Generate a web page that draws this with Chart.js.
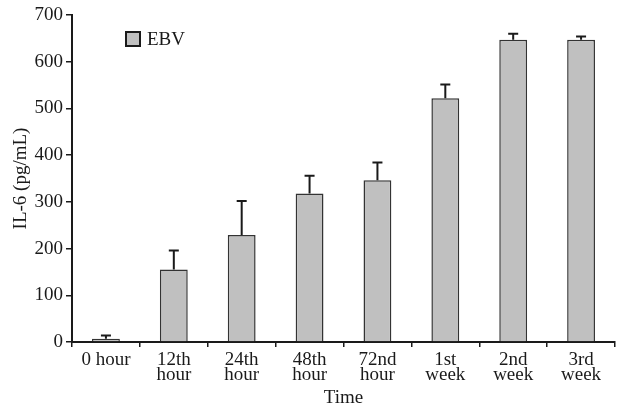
<!DOCTYPE html>
<html>
<head>
<meta charset="utf-8">
<script src="https://cdn.jsdelivr.net/npm/chart.js@4"></script>
<style>
    html, body { margin: 0; padding: 0; background: #fff; }
    #wrap { width: 623px; height: 408px; }
</style>
</head>
<body>
<div id="wrap"><canvas id="chart"></canvas></div>
<script>
// Data
const categories = [['0 hour'], ['12th', 'hour'], ['24th', 'hour'], ['48th', 'hour'],
    ['72nd', 'hour'], ['1st', 'week'], ['2nd', 'week'], ['3rd', 'week']];
const il6Values = [7, 155, 229, 318, 346, 522, 647, 647];
const il6Errors = [7, 41, 73, 38, 38, 29, 13, 7];
const seriesName = 'EBV';

const FONT = "'Liberation Serif', 'DejaVu Serif', serif";
const INK = '#1a1a1a';

// Upward-only error bars
const errorBars = {
    id: 'errorBars',
    afterDatasetsDraw(chart) {
        const ctx = chart.ctx;
        const y = chart.scales.y;
        const meta = chart.getDatasetMeta(0);
        ctx.save();
        ctx.strokeStyle = INK;
        ctx.lineWidth = 2;
        meta.data.forEach((bar, i) => {
            const top = y.getPixelForValue(il6Values[i] + il6Errors[i]);
            ctx.beginPath();
            ctx.moveTo(bar.x, bar.y);
            ctx.lineTo(bar.x, top);
            ctx.moveTo(bar.x - 5, top);
            ctx.lineTo(bar.x + 5, top);
            ctx.stroke();
        });
        ctx.restore();
    }
};

// Legend box inside the plot area
const insideLegend = {
    id: 'insideLegend',
    afterDraw(chart) {
        const ctx = chart.ctx;
        ctx.save();
        ctx.fillStyle = '#c0c0c0';
        ctx.fillRect(126, 32, 14, 14);
        ctx.strokeStyle = INK;
        ctx.lineWidth = 2;
        ctx.strokeRect(126, 32, 14, 14);
        ctx.fillStyle = INK;
        ctx.font = '19px ' + FONT;
        ctx.textBaseline = 'middle';
        ctx.fillText(seriesName, 147, 40);
        ctx.restore();
    }
};

const chart = new Chart(document.getElementById('chart').getContext('2d'), {
    type: 'bar',
    data: {
        labels: categories,
        datasets: [{
            label: seriesName,
            data: il6Values,
            backgroundColor: '#c0c0c0',
            borderColor: '#333',
            borderWidth: 1.5,
            barPercentage: 0.41,
            categoryPercentage: 1.0
        }]
    },
    options: {
        responsive: true,
        maintainAspectRatio: false,
        animation: false,
        layout: { padding: { top: 15, right: 8, left: 0, bottom: 0 } },
        plugins: {
            legend: { display: false },
            tooltip: { enabled: false }
        },
        scales: {
            x: {
                afterFit: s => { s.height = 66; },
                grid: { drawOnChartArea: false, color: INK, lineWidth: 1.5, tickLength: 5 },
                border: { color: INK, width: 2 },
                ticks: { color: INK, padding: 5, maxRotation: 0, autoSkip: false,
                    font: { family: FONT, size: 19, lineHeight: 0.8 } },
                title: { display: true, text: 'Time', color: INK,
                    font: { family: FONT, size: 19, lineHeight: 0.9 }, padding: { top: 0, bottom: 1 } }
            },
            y: {
                min: 0,
                max: 700,
                afterFit: s => { s.width = 72; },
                grid: { drawOnChartArea: false, color: INK, lineWidth: 1.5, tickLength: 6 },
                border: { color: INK, width: 2 },
                ticks: { stepSize: 100, color: INK, padding: 3,
                    font: { family: FONT, size: 19 } },
                title: { display: true, text: 'IL-6 (pg/mL)', color: INK,
                    font: { family: FONT, size: 19, lineHeight: 1.0 }, padding: { top: 12, bottom: 0 } }
            }
        }
    },
    plugins: [errorBars, insideLegend]
});
</script>
</body>
</html>
